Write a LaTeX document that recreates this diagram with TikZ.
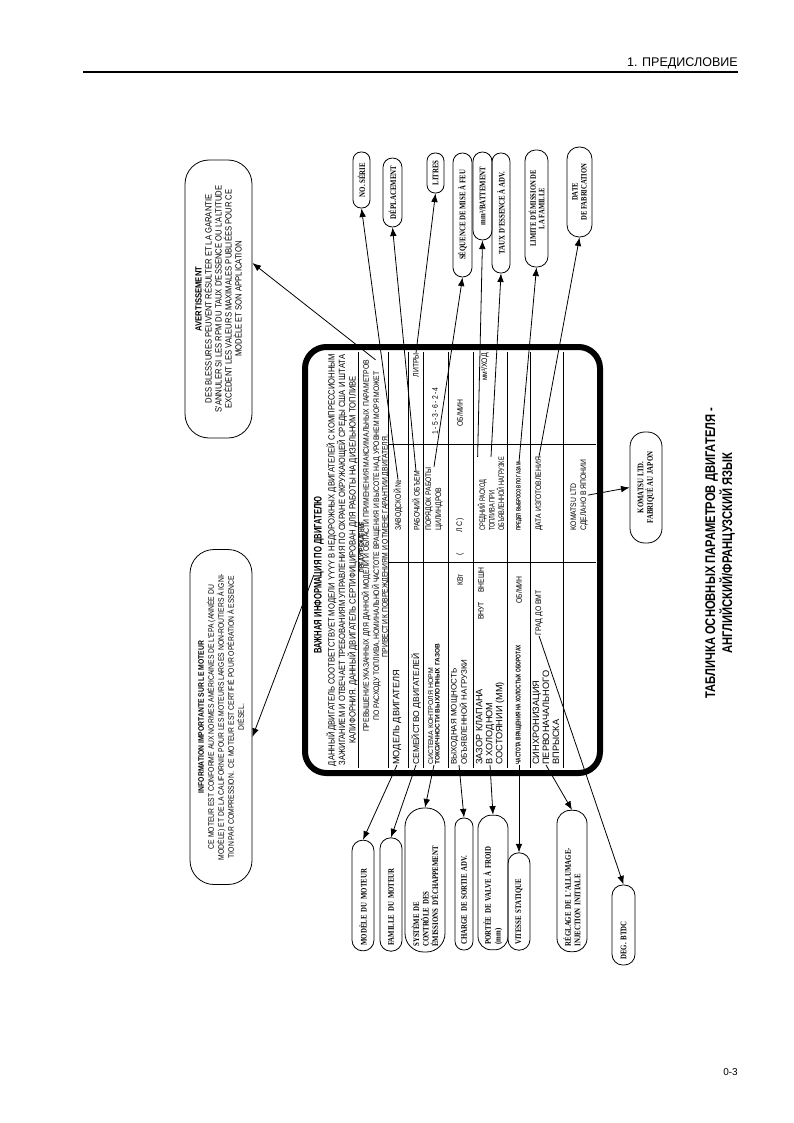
\documentclass[tikz,border=0pt]{standalone}
\usepackage{fontspec}
\setmainfont{Liberation Sans}
\newfontfamily\narrowfont[FakeStretch=0.7]{Liberation Sans}
\newfontfamily\platefont[FakeStretch=0.85]{Liberation Sans}
\newfontfamily\bubfont[FakeStretch=0.8]{Liberation Serif}
\newfontfamily\titlefont[FakeStretch=0.8]{Liberation Sans}
\newcommand{\psz}[2]{\fontsize{#1}{#2}\selectfont}
\usetikzlibrary{arrows.meta,calc}
\tikzset{
  rtxt/.style={rotate=90, inner sep=0pt},
  bub/.style={draw, rotate=90, line width=0.6pt, inner sep=1.5pt, align=center, font=\bubfont\bfseries\psz{6.4}{7.2}},
  bubl/.style={bub, align=left, inner xsep=4pt},
  conn/.style={line width=0.6pt, -{Latex[length=6.5pt,width=5pt]}},
  tabline/.style={line width=0.4pt},
  lab/.style={rtxt, anchor=west, align=left, font=\psz{6.9}{7.5}},
  mid/.style={rtxt, anchor=west, align=left, font=\platefont\psz{6}{7.5}},
  val/.style={rtxt, font=\platefont\psz{6}{7.5}}
}
\begin{document}
\begin{tikzpicture}[x=0.75pt,y=-0.75pt]
\useasboundingbox (0,0) rectangle (793,1123);
% header and page number
\draw[line width=2.2pt] (83,72) -- (738,72);
\node[anchor=base east, inner sep=0pt, font=\psz{9.4}{11}] (chap) at (738,67) {1. ПРЕДИСЛОВИЕ};
\node[anchor=base east, inner sep=0pt, font=\psz{7.5}{9}] (pnum) at (738,1075) {0-3};
\node[rtxt, align=center, font=\titlefont\bfseries\psz{10.5}{12.75}] (ttl) at (720,553)
  {ТАБЛИЧКА ОСНОВНЫХ ПАРАМЕТРОВ ДВИГАТЕЛЯ -\\АНГЛИЙСКИЙ/ФРАНЦУЗСКИЙ ЯЗЫК};

% engine plate
\draw[line width=4.5pt, rounded corners=16pt] (305,347) rectangle (600,773);
\node[rtxt, font=\narrowfont\bfseries\psz{8.2}{9}] (ptitle) at (319,575) {ВАЖНАЯ ИНФОРМАЦИЯ ПО ДВИГАТЕЛЮ};
\node[rtxt, align=center, font=\platefont\psz{6.75}{7.9}] (ppara) at (342,560)
  {ДАННЫЙ ДВИГАТЕЛЬ СООТВЕТСТВУЕТ МОДЕЛИ YYYY В НЕДОРОЖНЫХ ДВИГАТЕЛЕЙ С КОМПРЕССИОННЫМ\\
   ЗАЖИГАНИЕМ И ОТВЕЧАЕТ ТРЕБОВАНИЯМ УПРАВЛЕНИЯ ПО ОХРАНЕ ОКРУЖАЮЩЕЙ СРЕДЫ США И ШТАТА\\
   КАЛИФОРНИЯ. ДАННЫЙ ДВИГАТЕЛЬ СЕРТИФИЦИРОВАН ДЛЯ РАБОТЫ НА ДИЗЕЛЬНОМ ТОПЛИВЕ};
\draw[tabline] (358,352) -- (358,768);
\node[rtxt, font=\platefont\bfseries\psz{4.5}{5}] (whead) at (362,547) {ПРЕДУПРЕЖДЕНИЕ};
\node[rtxt, align=center, font=\platefont\psz{6}{5.25}] (warn) at (375.5,546)
  {ПРЕВЫШЕНИЕ УКАЗАННЫХ ДЛЯ ДАННОЙ МОДЕЛИ И ОБЛАСТИ ПРИМЕНЕНИЯ МАКСИМАЛЬНЫХ ПАРАМЕТРОВ\\
   ПО РАСХОДУ ТОПЛИВА, НОМИНАЛЬНОЙ ЧАСТОТЕ ВРАЩЕНИЯ И ВЫСОТЕ НАД УРОВНЕМ МОРЯ МОЖЕТ\\
   ПРИВЕСТИ К ПОВРЕЖДЕНИЯМ И ОТМЕНЕ ГАРАНТИИ ДВИГАТЕЛЯ.};

% table lines
\draw[tabline] (388,352) -- (388,768);
\foreach \r in {408,423,448,473,507,530,563}
  \draw[tabline] (\r,352) -- (\r,768);
\foreach \c in {444,562}
  \draw[tabline] (388,\c) -- (596,\c);

% row labels
\node[lab] (lmodel) at (397,765) {МОДЕЛЬ ДВИГАТЕЛЯ};
\node[lab, font=\psz{6.4}{7.5}] (lfamily) at (416,765) {СЕМЕЙСТВО ДВИГАТЕЛЕЙ};
\node[lab, font=\psz{5.2}{4.9}] (lsys) at (434,765) {СИСТЕМА КОНТРОЛЯ НОРМ\\{\bfseries\psz{4.9}{4.9}ТОКСИЧНОСТИ ВЫХЛОПНЫХ ГАЗОВ}};
\node[lab, font=\psz{6}{5.2}] (lpower) at (459,765) {ВЫХОДНАЯ МОЩНОСТЬ\\ОБЪЯВЛЕННОЙ НАГРУЗКИ};
\node[lab] (lvalve) at (490,765) {ЗАЗОР КЛАПАНА\\В ХОЛОДНОМ\\СОСТОЯНИИ (ММ)};
\node[lab, font=\narrowfont\bfseries\psz{5.2}{6}] (lidle) at (519,765) {ЧАСТОТА ВРАЩЕНИЯ НА ХОЛОСТЫХ ОБОРОТАХ};
\node[lab] (ltiming) at (546,765) {СИНХРОНИЗАЦИЯ\\ПЕРВОНАЧАЛЬНОГО\\ВПРЫСКА};

% middle column
\node[mid] (lserial) at (398,531) {ЗАВОДСКОЙ №};
\node[mid] (lvolume) at (416,531) {РАБОЧИЙ ОБЪЕМ};
\node[mid] (lorder) at (434,531) {ПОРЯДОК РАБОТЫ\\ЦИЛИНДРОВ};
\node[mid] (lhp) at (460,556) {(\hspace{16pt}Л\,С\,)};
\node[mid, font=\narrowfont\psz{6}{7.1}] (lfuel) at (491,531) {СРЕДНИЙ РАСХОД\\ТОПЛИВА ПРИ\\ОБЪЯВЛЕННОЙ НАГРУЗКЕ};
\node[mid, font=\narrowfont\bfseries\psz{4.6}{6}] (lemis) at (519,531) {ПРЕДЕЛ ВЫБРОСОВ ПО ГАЗАМ};
\node[mid] (ldate) at (539,531) {ДАТА ИЗГОТОВЛЕНИЯ};
\node[mid] (lmaker) at (579,531) {KOMATSU LTD\\СДЕЛАНО В ЯПОНИИ};

% values
\node[val, anchor=east] (vlitres) at (416,353) {ЛИТРЫ};
\node[val] (vorder) at (435,411) {1\,-\,5\,-\,3\,-\,6\,-\,2\,-\,4};
\node[val] (vrpm) at (460,413) {ОБ/МИН};
\node[val, anchor=east] (vfuel) at (485,353) {мм³/ХОД};
\node[val] (vkw) at (460,580) {КВт};
\node[val] (vin) at (481,611) {ВНУТ};
\node[val] (vout) at (481,580) {ВНЕШН};
\node[val] (vidle) at (519,590) {ОБ/МИН};
\node[val] (vdeg) at (539,613) {ГРАД ДО ВМТ};

% French callouts
\node[draw, rotate=90, line width=0.6pt, rounded corners=18pt, minimum width=208.5pt, minimum height=50.25pt,
  align=center, font=\platefont\psz{6.75}{7.5}] (avert) at (218.5,299)
  {{\bfseries AVERTISSEMENT}\\DES BLESSURES PEUVENT RÉSULTER ET LA GARANTIE\\
   S'ANNULER SI LES RPM DU TAUX D'ESSENCE OU L'ALTITUDE\\
   EXCÈDENT LES VALEURS MAXIMALES PUBLIÉES POUR CE\\MODÈLE ET SON APPLICATION};
\node[draw, rotate=90, line width=0.6pt, rounded corners=18pt, minimum width=251.25pt, minimum height=46.5pt,
  align=center, font=\platefont\psz{6}{7.5}] (info) at (221,717)
  {{\bfseries INFORMATION IMPORTANTE SUR LE MOTEUR}\\
   CE MOTEUR EST CONFORME AUX NORMES AMÉRICAINES DE L'EPA (ANNÉE DU\\
   MODÈLE) ET DE LA CALIFORNIE POUR LES MOTEURS LARGES NON-ROUTIERS À IGNI-\\
   TION PAR COMPRESSION.\ \ CE MOTEUR EST CERTIFIÉ POUR OPÉRATION À ESSENCE\\DIÉSEL.};

\node[bub, minimum width=42pt, minimum height=12.75pt, rounded corners=6pt] (serie) at (361.5,180) {NO. SÉRIE};
\node[bub, minimum width=51.75pt, minimum height=14.25pt, rounded corners=7pt] (depl) at (392.5,192.5) {DÉPLACEMENT};
\node[bub, minimum width=30pt, minimum height=12.75pt, rounded corners=6pt] (litres) at (435.5,173) {LITRES};
\node[bub, minimum width=93pt, minimum height=14.25pt, rounded corners=7pt] (feu) at (462.5,215) {SÉQUENCE DE MISE À FEU};
\node[bub, minimum width=66pt, minimum height=14.25pt, rounded corners=7pt] (mm3) at (482.5,196) {mm³/BATTEMENT};
\node[bub, minimum width=90pt, minimum height=13.5pt, rounded corners=6.5pt] (taux) at (501,213) {TAUX D'ESSENCE À ADV.};
\node[bub, minimum width=87.75pt, minimum height=17.25pt, rounded corners=8pt, font=\bubfont\bfseries\psz{6.2}{6.3}] (limite) at (536.5,208.5) {LIMITE D'ÉMISSION DE\\LA FAMILLE};
\node[bub, minimum width=67.5pt, minimum height=18.75pt, rounded corners=9pt, font=\bubfont\bfseries\psz{6.2}{6.8}] (date) at (579.5,192) {DATE\\DE FABRICATION};

\node[bubl, text width=75pt, minimum height=16.5pt, rounded corners=8pt] (modele) at (363,895.5) {MODÈLE DU MOTEUR};
\node[bubl, text width=77pt, minimum height=16.5pt, rounded corners=8pt] (famille) at (391,894.5) {FAMILLE DU MOTEUR};
\node[bubl, text width=100pt, minimum height=30pt, rounded corners=14pt] (systeme) at (425,880) {SYSTÈME DE\\CONTRÔLE DES\\ÉMISSIONS D'ÉCHAPPEMENT};
\node[bubl, text width=91pt, minimum height=13.5pt, rounded corners=6.5pt] (charge) at (464,884) {CHARGE DE SORTIE ADV.};
\node[bubl, text width=93pt, minimum height=22.5pt, rounded corners=10pt] (portee) at (493,882.5) {PORTÉE DE VALVE À FROID\\(mm)};
\node[bubl, text width=65pt, minimum height=16.5pt, rounded corners=8pt] (vitesse) at (519,901.5) {VITESSE STATIQUE};
\node[bubl, text width=98pt, minimum height=22.5pt, rounded corners=10pt] (reglage) at (572,881) {RÉGLAGE DE L'ALLUMAGE-\\INJECTION INITIALE};
\node[bubl, text width=52pt, minimum height=17.25pt, rounded corners=8pt] (deg) at (623.5,925) {DEG. BTDC};
\node[bub, minimum width=83.25pt, minimum height=24pt, rounded corners=11pt] (kom) at (646,487.5) {KOMATSU LTD.\\FABRIQUÉ AU JAPON};

% connectors
\draw[conn] (lserial.east) -- (serie.west);
\draw[conn] (lvolume.east) -- (depl.west);
\draw[conn] (vlitres.east) -- (litres.west);
\draw[conn] (lorder.east) -- (feu.west);
\draw[conn] (lfuel.north east) -- (mm3.west);
\draw[conn] (lfuel.east) -- (taux.west);
\draw[conn] (lemis.east) -- (limite.west);
\draw[conn] (ldate.east) -- (date.west);
\draw[conn] (warn.east) -- ($(avert.south)+(0,-36)$);
\draw[conn] (ptitle.north) -- ($(info.south)+(0,20)$);
\draw[conn] (lmodel.west) -- (modele.east);
\draw[conn] (lfamily.west) -- (famille.east);
\draw[conn] (lsys.west) -- (systeme.east);
\draw[conn] (lpower.west) -- (charge.east);
\draw[conn] (lvalve.west) -- (portee.east);
\draw[conn] (lidle.west) -- (vitesse.east);
\draw[conn] (ltiming.west) -- (reglage.east);
\draw[conn] (vdeg.west) -- (deg.east);
\draw[conn] (lmaker.south) -- (kom.north);
\end{tikzpicture}
\end{document}
